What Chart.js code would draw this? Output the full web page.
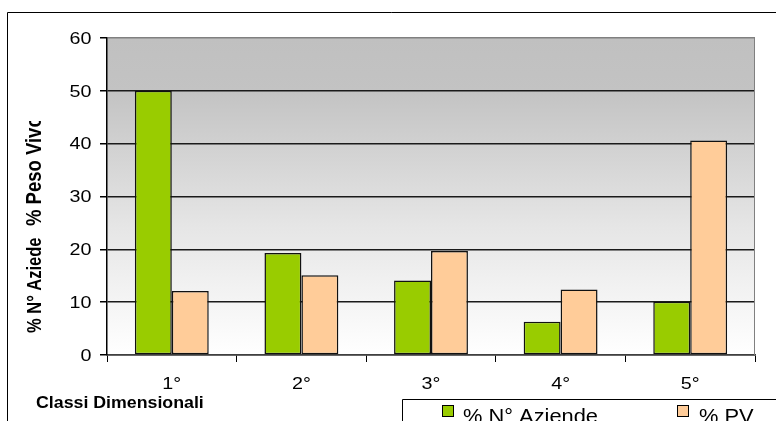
<!DOCTYPE html>
<html>
<head>
<meta charset="utf-8">
<script src="https://cdn.jsdelivr.net/npm/chart.js@4/dist/chart.umd.min.js"></script>
<style>
  html, body { margin: 0; padding: 0; background: #fff; }
  canvas { display: block; }
</style>
</head>
<body>
<canvas id="c" width="776" height="421"></canvas>
<script>
// Size classes and the two percentage series
const categories = ['1°', '2°', '3°', '4°', '5°'];
const aziende = [50, 19.3, 14.1, 6.3, 10.1];
const pesoVivo = [12.1, 15.1, 19.7, 12.4, 40.6];
const seriesNames = ['% N° Aziende', '% PV'];
const yMin = 0, yMax = 60, yStep = 10;

const FONT = '"Liberation Sans", Arial, sans-serif';

// Horizontally widened text, as in the original spreadsheet export
function wideText(ctx, text, x, y, sx, align, baseline) {
  ctx.save();
  ctx.translate(x, y);
  ctx.scale(sx, 1);
  ctx.textAlign = align;
  ctx.textBaseline = baseline;
  ctx.fillText(text, 0, 0);
  ctx.restore();
}

// Rotated (bottom-to-top) bold text, widened across the line
function verticalText(ctx, text, x, yStart, size) {
  ctx.save();
  ctx.translate(x, yStart);
  ctx.rotate(-Math.PI / 2);
  ctx.scale(1, 1.18);
  ctx.font = 'bold ' + size + 'px ' + FONT;
  ctx.textAlign = 'left';
  ctx.textBaseline = 'alphabetic';
  ctx.fillText(text, 0, 0);
  ctx.restore();
}

const decorations = {
  id: 'decorations',
  beforeDraw(chart) {
    const { ctx, chartArea: a } = chart;
    ctx.save();
    ctx.fillStyle = '#ffffff';
    ctx.fillRect(0, 0, chart.width, chart.height);
    const g = ctx.createLinearGradient(0, a.top, 0, a.bottom);
    g.addColorStop(0, '#c0c0c0');
    g.addColorStop(0.167, '#c3c3c3');
    g.addColorStop(0.6, '#e6e6e6');
    g.addColorStop(1, '#ffffff');
    ctx.fillStyle = g;
    ctx.fillRect(a.left, a.top, a.right - a.left, a.bottom - a.top);
    ctx.restore();
  },
  afterDraw(chart) {
    const { ctx, chartArea: a } = chart;
    const xs = chart.scales.x, ys = chart.scales.y;
    ctx.save();

    // right edge of the plot
    ctx.strokeStyle = '#808080';
    ctx.lineWidth = 1;
    ctx.beginPath();
    ctx.moveTo(a.right - 0.5, a.top);
    ctx.lineTo(a.right - 0.5, a.bottom);
    ctx.stroke();

    // y tick labels
    ctx.fillStyle = '#000';
    ctx.font = '17px ' + FONT;
    ys.ticks.forEach(t => {
      wideText(ctx, String(t.value), 91.5, ys.getPixelForValue(t.value) + 1, 1.16, 'right', 'middle');
    });

    // x category labels
    categories.forEach((lab, i) => {
      wideText(ctx, lab, xs.getPixelForTick(i), 384, 1.16, 'center', 'middle');
    });

    // x axis title
    ctx.font = 'bold 16px ' + FONT;
    wideText(ctx, 'Classi Dimensionali', 36, 407.5, 1.11, 'left', 'alphabetic');

    // y axis title (clipped at the top)
    ctx.save();
    ctx.beginPath();
    ctx.rect(0, 121, 60, 260);
    ctx.clip();
    verticalText(ctx, '% N° Aziede', 41, 333, 16.5);
    verticalText(ctx, '% Peso Vivo', 41, 226, 18.5);
    ctx.restore();

    // outer frame
    ctx.strokeStyle = '#000';
    ctx.lineWidth = 1;
    ctx.beginPath();
    ctx.moveTo(7.5, chart.height);
    ctx.lineTo(7.5, 12.5);
    ctx.lineTo(chart.width, 12.5);
    ctx.stroke();

    // legend box
    ctx.beginPath();
    ctx.moveTo(402.5, chart.height);
    ctx.lineTo(402.5, 399.5);
    ctx.lineTo(chart.width, 399.5);
    ctx.stroke();

    const boxX = [442, 677], textX = [463, 699];
    ctx.font = '21px ' + FONT;
    chart.data.datasets.forEach((ds, i) => {
      ctx.fillStyle = ds.backgroundColor;
      ctx.fillRect(boxX[i] + 0.5, 405.5, 11, 11);
      ctx.strokeStyle = '#000';
      ctx.strokeRect(boxX[i] + 0.5, 405.5, 11, 11);
      ctx.fillStyle = '#000';
      wideText(ctx, ds.label, textX[i], 423, 1.04, 'left', 'alphabetic');
    });

    ctx.restore();
  }
};

new Chart(document.getElementById('c'), {
  type: 'bar',
  data: {
    labels: categories,
    datasets: [
      { label: seriesNames[0], data: aziende, backgroundColor: '#99cc00',
        borderColor: '#111', borderWidth: 1.5, borderSkipped: false },
      { label: seriesNames[1], data: pesoVivo, backgroundColor: '#ffcc99',
        borderColor: '#111', borderWidth: 1.5, borderSkipped: false }
    ]
  },
  options: {
    responsive: false,
    animation: false,
    devicePixelRatio: 1,
    layout: { padding: { left: 0, top: 38, right: 21, bottom: 0 } },
    datasets: { bar: { barPercentage: 1, categoryPercentage: 0.57 } },
    plugins: { legend: { display: false }, tooltip: { enabled: false } },
    scales: {
      x: {
        offset: true,
        afterFit(s) { s.height = 66; },
        ticks: { display: false },
        grid: { offset: true, drawOnChartArea: false, drawTicks: true,
                tickLength: 7, color: '#000', tickColor: '#000' },
        border: { display: true, color: '#404040', width: 1.5 }
      },
      y: {
        min: yMin, max: yMax,
        afterFit(s) { s.width = 107; },
        ticks: { display: false, stepSize: yStep },
        grid: {
          drawTicks: true, tickLength: 7,
          color: ctx => (ctx.tick && ctx.tick.value === yMax) ? '#808080' : '#1a1a1a',
          tickColor: '#000', lineWidth: 1.5
        },
        border: { display: true, color: '#000', width: 1.5 }
      }
    }
  },
  plugins: [decorations]
});
</script>
</body>
</html>
